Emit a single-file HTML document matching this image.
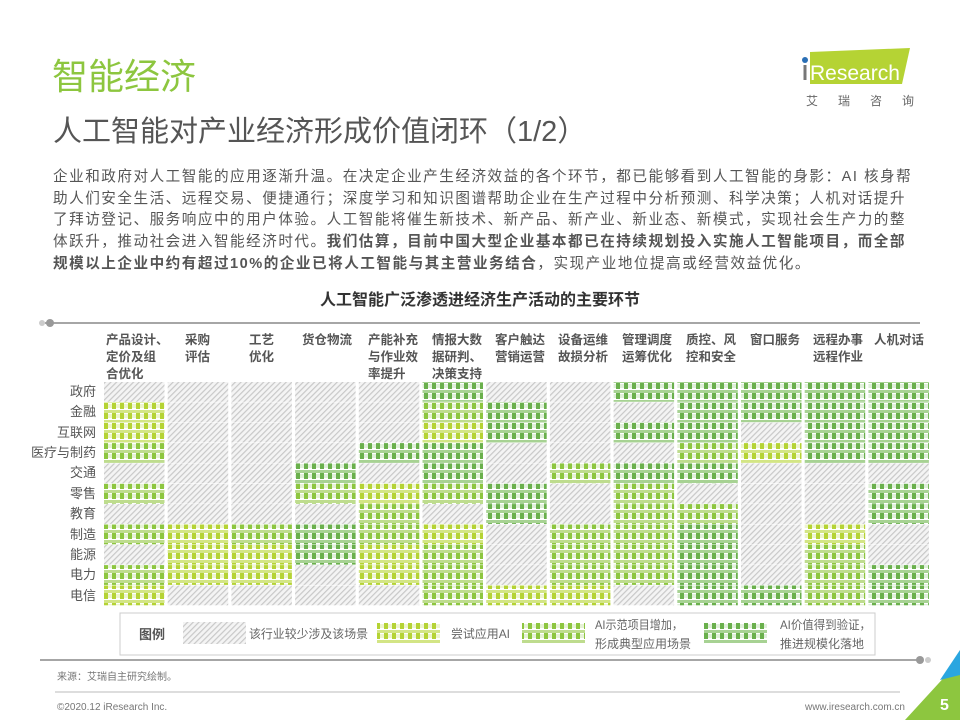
<!DOCTYPE html>
<html><head><meta charset="utf-8">
<style>
body{margin:0;width:960px;height:720px;background:#fff;position:relative;overflow:hidden;font-family:"Liberation Sans","Noto Sans CJK SC",sans-serif;color:#555}
.a{position:absolute;white-space:nowrap}
</style></head><body>
<div class="a" style="left:52px;top:52px;font-size:36px;color:#8dc63f;line-height:50px">智能经济</div>
<div class="a" style="left:53px;top:112px;font-size:29px;color:#555;line-height:40px">人工智能对产业经济形成价值闭环（1/2）</div>
<div class="a" style="left:53px;top:167px;font-size:14.6px;line-height:21.7px;color:#555;letter-spacing:1.5px">企业和政府对人工智能的应用逐渐升温。在决定企业产生经济效益的各个环节，都已能够看到人工智能的身影：AI 核身帮<br>助人们安全生活、远程交易、便捷通行；深度学习和知识图谱帮助企业在生产过程中分析预测、科学决策；人机对话提升<br>了拜访登记、服务响应中的用户体验。人工智能将催生新技术、新产品、新产业、新业态、新模式，实现社会生产力的整<br>体跃升，推动社会进入智能经济时代。<b>我们估算，目前中国大型企业基本都已在持续规划投入实施人工智能项目，而全部</b><br><b>规模以上企业中约有超过10%的企业已将人工智能与其主营业务结合</b>，实现产业地位提高或经营效益优化。</div>
<div class="a" style="left:0;width:960px;text-align:center;top:286px;font-size:16px;font-weight:bold;color:#333">人工智能广泛渗透进经济生产活动的主要环节</div>
<svg class="a" style="left:790px;top:48px" width="130" height="60">
<polygon points="20,4 120,0 112,36 20,36" fill="#b5d334"/>
<circle cx="15" cy="12" r="3" fill="#2a6fb5"/>
<rect x="13.5" y="17" width="3" height="15" fill="#777"/>
<text x="20" y="32" font-family="Liberation Sans" font-size="21" fill="#fff">Research</text>
<text x="16" y="57" font-family="Noto Sans CJK SC" font-size="12" fill="#666" letter-spacing="20">艾瑞咨询</text>
</svg>
<svg class="a" style="left:0;top:0" width="960" height="720">
<defs>
<pattern id="h" width="4" height="4" patternUnits="userSpaceOnUse" patternTransform="rotate(45)"><rect width="4" height="4" fill="#f4f4f4"/><rect width="1.2" height="4" fill="#c8c8c8"/></pattern>
<pattern id="p1" width="8" height="10" patternUnits="userSpaceOnUse"><rect width="8" height="10" fill="#fff"/><rect width="8" height="3" fill="#d3e585"/><rect y="3" width="4" height="6" fill="#b5d334"/><rect x="4" y="4" width="4" height="4" fill="#eef5cf"/></pattern>
<pattern id="p2" width="8" height="10" patternUnits="userSpaceOnUse"><rect width="8" height="10" fill="#fff"/><rect width="8" height="3" fill="#bedc8e"/><rect y="3" width="4" height="6" fill="#8dc63f"/><rect x="4" y="4" width="4" height="4" fill="#e6f2d6"/></pattern>
<pattern id="p3" width="8" height="10" patternUnits="userSpaceOnUse"><rect width="8" height="10" fill="#fff"/><rect width="8" height="3" fill="#a7d293"/><rect y="3" width="4" height="6" fill="#6ab04c"/><rect x="4" y="4" width="4" height="4" fill="#e0f0da"/></pattern>
</defs>
<line x1="45" y1="323" x2="920" y2="323" stroke="#888" stroke-width="1.5"/>
<circle cx="50" cy="323" r="4" fill="#999"/><circle cx="42" cy="323" r="3" fill="#ccc"/>
<line x1="40" y1="660" x2="920" y2="660" stroke="#888" stroke-width="1.5"/>
<circle cx="920" cy="660" r="4" fill="#999"/><circle cx="928" cy="660" r="3" fill="#ccc"/>
<line x1="55" y1="692" x2="900" y2="692" stroke="#bbb" stroke-width="1"/>
<polygon points="960,660 960,720 905,720" fill="#8dc63f"/>
<polygon points="960,650 960,675 940,680" fill="#2aa6e0"/>
<text x="940" y="710" font-family="Liberation Sans" font-size="16" fill="#fff" font-weight="bold">5</text>
<g id="cells"></g>
<rect x="120" y="613" width="755" height="42" fill="#fff" stroke="#ccc"/>
<rect x="183" y="622" width="63" height="22" fill="url(#h)"/>
<rect x="377" y="623" width="63" height="20" fill="url(#p1)"/>
<rect x="522" y="623" width="63" height="20" fill="url(#p2)"/>
<rect x="704" y="623" width="63" height="20" fill="url(#p3)"/>
<g font-family="Liberation Sans,Noto Sans CJK SC,sans-serif" font-size="12" fill="#666">
<text x="139" y="639" font-weight="bold" font-size="13" fill="#555">图例</text>
<text x="249" y="638" textLength="119" lengthAdjust="spacingAndGlyphs">该行业较少涉及该场景</text>
<text x="451" y="638" textLength="59" lengthAdjust="spacingAndGlyphs">尝试应用AI</text>
<text x="595" y="629" textLength="88" lengthAdjust="spacingAndGlyphs">AI示范项目增加，</text>
<text x="595" y="648" textLength="96" lengthAdjust="spacingAndGlyphs">形成典型应用场景</text>
<text x="780" y="629" textLength="91" lengthAdjust="spacingAndGlyphs">AI价值得到验证，</text>
<text x="780" y="648" textLength="84" lengthAdjust="spacingAndGlyphs">推进规模化落地</text>
</g>
<g font-family="Liberation Sans,Noto Sans CJK SC,sans-serif" font-size="13" fill="#555" text-anchor="end">
<text x="96" y="396">政府</text><text x="96" y="416">金融</text><text x="96" y="437">互联网</text><text x="96" y="457">医疗与制药</text><text x="96" y="477">交通</text><text x="96" y="498">零售</text><text x="96" y="518">教育</text><text x="96" y="539">制造</text><text x="96" y="559">能源</text><text x="96" y="579">电力</text><text x="96" y="600">电信</text>
</g>
<g font-family="Liberation Sans,Noto Sans CJK SC,sans-serif" font-size="12.5" font-weight="bold" fill="#555">
<text x="106" y="344">产品设计、</text><text x="106" y="361">定价及组</text><text x="106" y="378">合优化</text>
<text x="185" y="344">采购</text><text x="185" y="361">评估</text>
<text x="249" y="344">工艺</text><text x="249" y="361">优化</text>
<text x="302" y="344">货仓物流</text>
<text x="368" y="344">产能补充</text><text x="368" y="361">与作业效</text><text x="368" y="378">率提升</text>
<text x="432" y="344">情报大数</text><text x="432" y="361">据研判、</text><text x="432" y="378">决策支持</text>
<text x="495" y="344">客户触达</text><text x="495" y="361">营销运营</text>
<text x="558" y="344">设备运维</text><text x="558" y="361">故损分析</text>
<text x="622" y="344">管理调度</text><text x="622" y="361">运筹优化</text>
<text x="686" y="344">质控、风</text><text x="686" y="361">控和安全</text>
<text x="750" y="344">窗口服务</text>
<text x="813" y="344">远程办事</text><text x="813" y="361">远程作业</text>
<text x="874" y="344">人机对话</text>
</g>
<g font-family="Liberation Sans,Noto Sans CJK SC,sans-serif" font-size="10" fill="#777">
<text x="57" y="680">来源：艾瑞自主研究绘制。</text>
<text x="57" y="710">©2020.12 iResearch Inc.</text>
<text x="905" y="710" text-anchor="end">www.iresearch.com.cn</text>
</g>
</svg>
<script>
var d=[
[0,1,1,2,0,2,0,2,0,2,1],
[0,0,0,0,0,0,0,1,1,1,0],
[0,0,0,0,0,0,0,2,1,1,0],
[0,0,0,0,3,2,0,3,3,0,0],
[0,0,0,3,0,1,2,2,1,1,0],
[3,2,1,3,3,2,0,1,2,2,2],
[0,3,3,0,0,3,3,0,0,0,1],
[0,0,0,0,2,0,0,2,2,2,1],
[3,0,3,0,3,2,2,2,2,2,0],
[3,3,3,2,3,0,2,3,3,3,3],
[3,3,0,1,0,0,0,0,0,0,3],
[3,3,3,3,0,0,0,1,2,2,2],
[3,3,3,3,0,3,3,0,0,3,3]];
var g=document.getElementById('cells'),h='';
var f=['url(#h)','url(#p1)','url(#p2)','url(#p3)'];
for(var i=0;i<13;i++)for(var j=0;j<11;j++){
var x=104+i*63.7,y=382+j*20.35;
h+='<rect x="'+x.toFixed(1)+'" y="'+y.toFixed(1)+'" width="60.5" height="19.8" fill="'+f[d[i][j]]+'"/>';}
g.innerHTML=h;
</script>
</body></html>
